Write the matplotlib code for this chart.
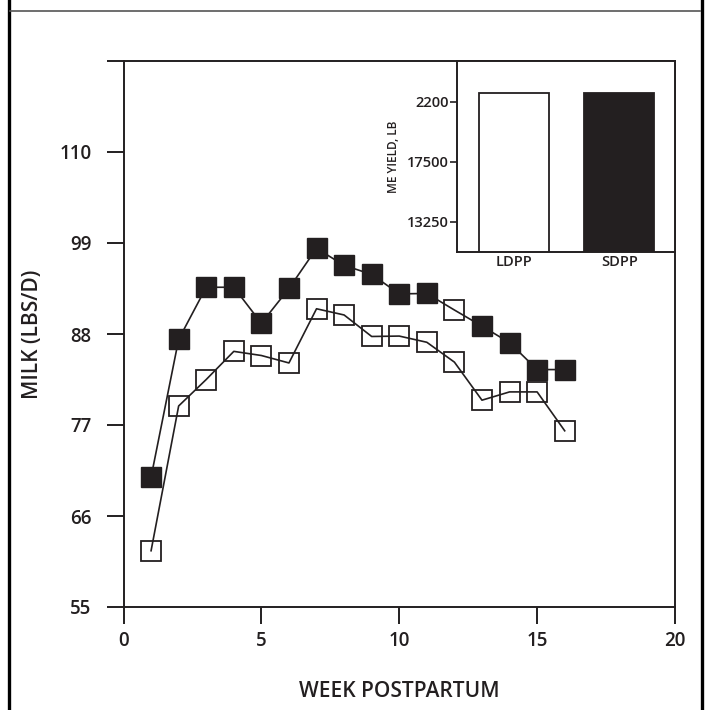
import numpy as np
import matplotlib.pyplot as plt
from matplotlib.lines import Line2D

INK = "#231f20"
plt.rcParams["font.family"] = ["Open Sans", "DejaVu Sans"]
plt.rcParams["font.weight"] = "semibold"
plt.rcParams["axes.labelweight"] = "semibold"

# main panel: milk yield by week postpartum
weeks = np.arange(1, 17)
milk_sdpp = [70.7, 87.35, 93.65, 93.65, 89.3, 93.5, 98.35, 96.3,
             95.2, 92.85, 92.9, 90.9, 88.95, 86.95, 83.7, 83.7]
milk_ldpp = [61.8, 79.3, 82.5, 85.9, 85.4, 84.5, 91.05, 90.3,
             87.7, 87.75, 87.0, 84.6, 80.0, 81.0, 81.0, 76.3]
sdpp_open_week = 12      # this SDPP point is drawn hollow in the source

y_ticks = [55, 66, 77, 88, 99, 110, 121]
y_tick_labels = ["55", "66", "77", "88", "99", "110", ""]
x_ticks = [0, 5, 10, 15, 20]

# inset: mature-equivalent yield
groups = ["LDPP", "SDPP"]
me_yield = [22350, 22400]
inset_ticks = [13250, 17500, 21750]
inset_tick_labels = ["13250", "17500", "2200"]

W, H = 707, 710
fig = plt.figure(figsize=(W / 100, H / 100), dpi=100)


def px_box(left, top, right, bottom):
    return [left / W, 1 - bottom / H, (right - left) / W, (bottom - top) / H]


ax = fig.add_axes(px_box(123.5, 61, 675, 607))
ax.plot(weeks, milk_sdpp, color=INK, lw=1.2, zorder=2)
keep = [i for i, w in enumerate(weeks) if w != sdpp_open_week]
ax.plot(weeks[keep], np.array(milk_sdpp)[keep], ls="none", marker="s",
        ms=14.5, mfc=INK, mec=INK, zorder=3)
i12 = list(weeks).index(sdpp_open_week)
ax.plot([weeks[i12]], [milk_sdpp[i12]], ls="none", marker="s", ms=14.5,
        mfc="none", mec=INK, mew=1.3, zorder=3)
ax.plot(weeks, milk_ldpp, color=INK, lw=1.2, zorder=2)
ax.plot(weeks, milk_ldpp, ls="none", marker="s", ms=14.5,
        mfc="none", mec=INK, mew=1.3, zorder=3)

ax.set_xlim(0, 20)
ax.set_ylim(55, 121)
ax.set_xticks(x_ticks)
ax.set_yticks(y_ticks)
ax.set_yticklabels(y_tick_labels)
for s in ax.spines.values():
    s.set_linewidth(1.4)
    s.set_color(INK)
ax.tick_params(axis="both", direction="out", length=12, width=1.4,
               color=INK, labelsize=13.5, labelcolor=INK)
ax.tick_params(axis="y", pad=11)
ax.tick_params(axis="x", pad=5)
ax.set_ylabel("MILK (LBS/D)", fontsize=15, color=INK, labelpad=12)
ax.set_xlabel("WEEK POSTPARTUM", fontsize=15, color=INK, labelpad=22)

ins = fig.add_axes(px_box(457, 61, 675, 252))
ins.bar([0, 1], me_yield, width=0.67, color=["white", INK],
        edgecolor=INK, linewidth=1.3)
ins.set_xlim(-0.545, 1.531)
ins.set_ylim(11125, 24650)
ins.set_xticks([0, 1])
ins.set_xticklabels(groups)
ins.set_yticks(inset_ticks)
ins.set_yticklabels(inset_tick_labels)
for s in ins.spines.values():
    s.set_linewidth(1.4)
    s.set_color(INK)
ins.tick_params(axis="y", direction="out", length=5, width=1.2, pad=1,
                color=INK, labelsize=10.5, labelcolor=INK)
ins.tick_params(axis="x", length=0, pad=2, labelsize=10.5, labelcolor=INK)
ins.set_ylabel("ME YIELD, LB", fontsize=8.5, color=INK, labelpad=5)
ins.set_zorder(5)

# outer frame of the panel
fig.add_artist(Line2D([8.5 / W, 8.5 / W], [0, 1], color="black", lw=2.4))
fig.add_artist(Line2D([702 / W, 702 / W], [0, 1], color="black", lw=2.4))
fig.add_artist(Line2D([10 / W, 700 / W], [1 - 10.5 / H, 1 - 10.5 / H],
                      color="#555555", lw=1.2))

fig.savefig("out.png", dpi=100)
